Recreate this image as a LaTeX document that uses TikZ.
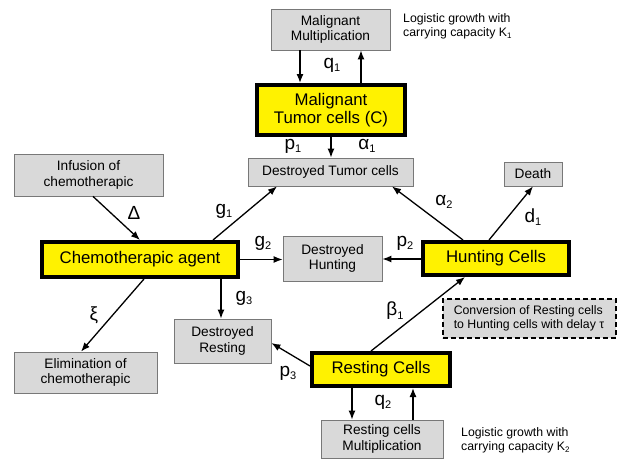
\documentclass[tikz,border=0pt]{standalone}
\usepackage{fontspec}
\setmainfont{Liberation Sans}
\usetikzlibrary{arrows.meta}
\definecolor{boxgray}{RGB}{217,217,217}
\definecolor{edgegray}{RGB}{120,120,120}
\newcommand\lsub[1]{\raisebox{-0.35ex}{\fontsize{11}{11}\selectfont #1}}
\newcommand\ksub[1]{\raisebox{-0.3ex}{\fontsize{8}{8}\selectfont #1}}
\tikzset{
  graybox/.style={draw=edgegray, fill=boxgray, line width=0.8pt, align=center, inner sep=0pt,
    font=\fontsize{13.7}{15.5}\selectfont},
  yelbox/.style={draw=black, fill=yellow, line width=4pt, align=center, inner sep=0pt,
    font=\fontsize{16.8}{18.5}\selectfont},
  dashbox/.style={draw=black, fill=boxgray, line width=2pt, dash pattern=on 5pt off 3pt, align=left, inner sep=0pt,
    font=\fontsize{12.3}{14}\selectfont},
  note/.style={align=left, inner sep=0pt, anchor=north west, font=\fontsize{12.3}{14}\selectfont},
  lbl/.style={inner sep=0pt, font=\fontsize{19}{19}\selectfont},
  arr/.style={line width=1.3pt, -{Latex[length=9pt,width=7pt]}}
}
\begin{document}
\begin{tikzpicture}[x=1pt,y=-1pt]
\useasboundingbox (0,0) rectangle (619,459);

% boxes
\node[graybox, minimum width=119pt, minimum height=41pt] (mm) at (330.5,29.5) {Malignant\\Multiplication};
\node[yelbox, minimum width=148pt, minimum height=50pt] (mt) at (331,110) {Malignant\\Tumor cells (C)};
\node[graybox, minimum width=165pt, minimum height=28pt] (dt) at (330.5,172) {Destroyed Tumor cells};
\node[graybox, minimum width=58pt, minimum height=24pt] (death) at (533,174) {Death};
\node[graybox, minimum width=149pt, minimum height=42pt] (inf) at (88.5,175) {Infusion of\\chemotherapic};
\node[yelbox, minimum width=196pt, minimum height=35pt] (ca) at (140,259.5) {Chemotherapic agent};
\node[graybox, minimum width=99pt, minimum height=45pt] (dh) at (332.5,258.5) {Destroyed\\Hunting};
\node[yelbox, minimum width=146pt, minimum height=33pt] (hc) at (496,258.5) {Hunting Cells};
\node[dashbox, minimum width=173pt, minimum height=39pt] (conv) at (529,318) {Conversion of Resting cells\\to Hunting cells with delay τ};
\node[graybox, minimum width=97pt, minimum height=44pt] (dr) at (222.5,341) {Destroyed\\Resting};
\node[graybox, minimum width=143pt, minimum height=41pt] (el) at (85.5,372.5) {Elimination of\\chemotherapic};
\node[yelbox, minimum width=138pt, minimum height=33pt] (rc) at (381,369.5) {Resting Cells};
\node[graybox, minimum width=122pt, minimum height=38pt] (rm) at (382,439) {Resting cells\\Multiplication};

% notes
\node[note] (k1) at (403,13) {Logistic growth with\\carrying capacity K\ksub{1}};
\node[note] (k2) at (461,427) {Logistic growth with\\carrying capacity K\ksub{2}};

% arrows
\draw[arr] (mm.south -| 300,0) -- (mt.north -| 300,0);
\draw[arr] (mt.north -| 361,0) -- (mm.south -| 361,0);
\draw[arr] (mt.south -| 331,0) -- (dt.north -| 331,0);
\draw[arr] (inf.south -| 93,0) -- (ca.north -| 140,0);
\draw[arr] (ca.north -| 213,0) -- (dt.south -| 277,0);
\draw[arr] (ca.east |- 0,259.5) -- (dh.west |- 0,259.5);
\draw[arr] (ca.south -| 221,0) -- (dr.north -| 221,0);
\draw[arr] (ca.south -| 144,0) -- (el.north -| 81,0);
\draw[arr] (hc.north -| 463,0) -- (dt.south -| 392,0);
\draw[arr] (hc.north -| 489,0) -- (death.south -| 533,0);
\draw[arr] (hc.west |- 0,259) -- (dh.east |- 0,259);
\draw[arr] (rc.north -| 371,0) -- (hc.south -| 465,0);
\draw[arr] (rc.west |- 0,366) -- (dr.east |- 0,343);
\draw[arr] (rc.south -| 352,0) -- (rm.north -| 352,0);
\draw[arr] (rm.north -| 413,0) -- (rc.south -| 413,0);

% labels
\node[lbl] (lq1) at (332,65) {q\lsub{1}};
\node[lbl] (lp1) at (293,146) {p\lsub{1}};
\node[lbl] (la1) at (367,146) {α\lsub{1}};
\node[lbl] (lg1) at (224,211) {g\lsub{1}};
\node[lbl] (lg2) at (263,243) {g\lsub{2}};
\node[lbl] (lg3) at (244,298) {g\lsub{3}};
\node[lbl] (ld) at (134,213) {Δ};
\node[lbl] (lxi) at (94,315) {ξ};
\node[lbl] (la2) at (444,202) {α\lsub{2}};
\node[lbl] (ld1) at (533,217) {d\lsub{1}};
\node[lbl] (lp2) at (405,243) {p\lsub{2}};
\node[lbl] (lb1) at (395,311) {β\lsub{1}};
\node[lbl] (lp3) at (288,373) {p\lsub{3}};
\node[lbl] (lq2) at (383,402) {q\lsub{2}};
\end{tikzpicture}
\end{document}
